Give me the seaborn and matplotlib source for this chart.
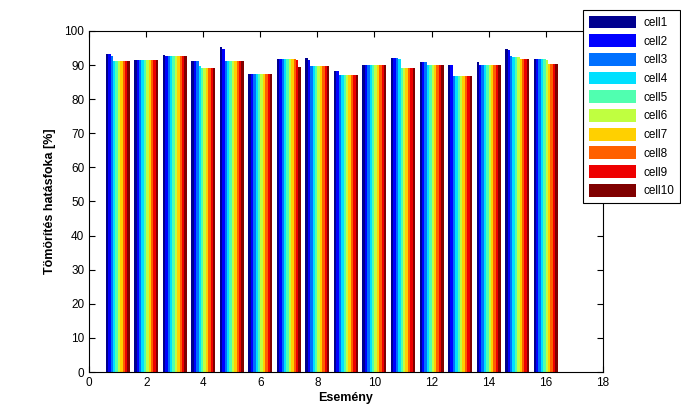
# Grouped bar chart: compression efficiency per event, 10 cells

import numpy as np
import pandas as pd
import seaborn as sns
import matplotlib.pyplot as plt
from matplotlib.patches import Patch

events = list(range(1, 17))
cells = ["cell%d" % i for i in range(1, 11)]

# values per event (rows) for cell1..cell10 (columns)
ev01 = [93.3, 93.3, 92.7, 91.2, 91.2, 91.2, 91.2, 91.2, 91.2, 91.2]
ev02 = [91.5, 91.5, 91.5, 91.5, 91.5, 91.5, 91.5, 91.5, 91.5, 91.5]
ev03 = [93.0, 92.7, 92.7, 92.7, 92.7, 92.7, 92.7, 92.7, 92.7, 92.7]
ev04 = [91.2, 91.2, 91.2, 89.7, 89.1, 89.1, 89.1, 89.1, 89.1, 89.1]
ev05 = [95.3, 94.7, 91.2, 91.2, 91.2, 91.2, 91.2, 91.2, 91.2, 91.2]
ev06 = [87.4, 87.4, 87.4, 87.4, 87.4, 87.4, 87.4, 87.4, 87.4, 87.4]
ev07 = [91.8, 91.8, 91.8, 91.8, 91.8, 91.8, 91.8, 91.8, 91.5, 89.4]
ev08 = [92.1, 91.5, 89.7, 89.7, 89.7, 89.7, 89.7, 89.7, 89.7, 89.7]
ev09 = [88.3, 88.3, 87.1, 87.1, 87.1, 87.1, 87.1, 87.1, 87.1, 87.1]
ev10 = [90.0, 90.0, 90.0, 90.0, 90.0, 90.0, 90.0, 90.0, 90.0, 90.0]
ev11 = [92.1, 92.1, 92.1, 91.8, 89.1, 89.1, 89.1, 89.1, 89.1, 89.1]
ev12 = [90.9, 90.9, 90.9, 90.0, 90.0, 90.0, 90.0, 90.0, 90.0, 90.0]
ev13 = [90.0, 90.0, 86.8, 86.8, 86.8, 86.8, 86.8, 86.8, 86.8, 86.8]
ev14 = [90.9, 90.0, 90.0, 90.0, 90.0, 90.0, 90.0, 90.0, 90.0, 90.0]
ev15 = [94.8, 94.5, 92.6, 92.4, 92.4, 92.4, 91.8, 91.8, 91.8, 91.8]
ev16 = [91.8, 91.8, 91.8, 91.8, 91.8, 91.5, 90.3, 90.3, 90.3, 90.3]

rows = [ev01, ev02, ev03, ev04, ev05, ev06, ev07, ev08,
        ev09, ev10, ev11, ev12, ev13, ev14, ev15, ev16]

colors = ["#00008F", "#0000FF", "#0070FF", "#00E0FF", "#50FFB0",
          "#C0FF40", "#FFD000", "#FF6000", "#EE0000", "#800000"]

# long format table for seaborn
df = pd.DataFrame(rows, index=events, columns=cells)
df = df.reset_index().melt(id_vars="index", var_name="cell", value_name="value")
df = df.rename(columns={"index": "event"})

sns.set_theme(style="ticks")
plt.rcParams["font.family"] = ["Liberation Sans", "DejaVu Sans"]
plt.rcParams.update({"text.color": "black", "axes.labelcolor": "black",
                     "xtick.color": "black", "ytick.color": "black"})

fig = plt.figure(figsize=(6.81, 4.18), dpi=100)
ax = fig.add_axes([0.131, 0.110, 0.754, 0.816])

sns.barplot(data=df, x="event", y="value", hue="cell", hue_order=cells,
            palette=colors, native_scale=True, width=0.84, saturation=1,
            linewidth=0, errorbar=None, ax=ax, legend=False)

ax.set_xlim(0, 18)
ax.set_ylim(0, 100)
ax.set_xticks(np.arange(0, 19, 2))
ax.set_yticks(np.arange(0, 101, 10))
ax.tick_params(direction="in", length=4, width=0.8, labelsize=8.5,
               top=True, right=True, colors="black")
for s in ax.spines.values():
    s.set_visible(True)
    s.set_linewidth(0.8)
    s.set_color("black")

ax.set_xlabel("Esemény", fontsize=9, fontweight="bold", labelpad=2)
ax.set_ylabel("Tömörítés hatásfoka [%]", fontsize=9, fontweight="bold", labelpad=6)

handles = [Patch(facecolor=c, edgecolor="none", label=l) for c, l in zip(colors, cells)]
leg = fig.legend(handles=handles, loc="upper left", bbox_to_anchor=(0.856, 0.977),
                 fontsize=8.5, frameon=True, fancybox=False, framealpha=1,
                 handlelength=4.0, handleheight=1.3, handletextpad=0.6,
                 labelspacing=0.45, borderpad=0.5, borderaxespad=0)
leg.get_frame().set_edgecolor("black")
leg.get_frame().set_linewidth(0.8)

fig.savefig("out.png", dpi=100)
